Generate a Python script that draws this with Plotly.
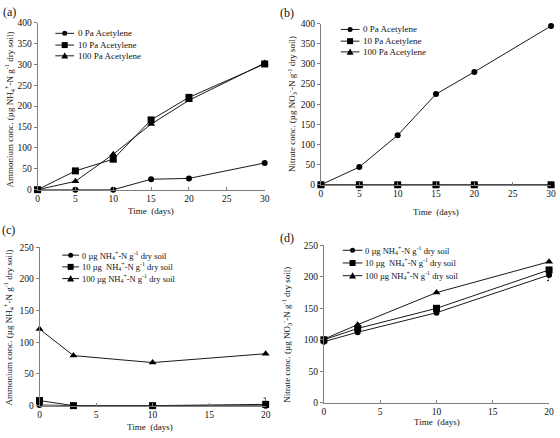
import plotly.graph_objects as go

# ---------------- data ----------------
days_ab = [0, 5, 10, 15, 20, 30]
amm_0pa = [0, 0, 0, 25, 27, 64]
amm_10pa = [0, 45, 73, 167, 221, 301]
amm_100pa = [0, 20, 85, 157, 214, 303]

nit_0pa = [0, 44, 123, 225, 280, 394]
nit_10pa = [0, 0, 0, 0, 0, 0]
nit_100pa = [0, 0, 0, 0, 0, 0]

days_cd = [0, 3, 10, 20]
amm_0ug = [1, 0, 0, 0]
amm_10ug = [8, 0, 0, 2]
amm_10ug_err = [0, 0, 0, 10]
amm_100ug = [121, 79, 68, 82]

nit_0ug = [97, 112, 143, 203]
nit_0ug_err = [0, 0, 0, 9]
nit_10ug = [100, 118, 150, 211]
nit_10ug_err = [0, 0, 0, 3]
nit_100ug = [101, 124, 175, 224]

labels_ab = ["0 Pa Acetylene", "10 Pa Acetylene", "100 Pa Acetylene"]
labels_cd = ["0 \u00b5g NH<sub>4</sub><sup>+</sup>-N g<sup>-1</sup> dry soil",
             "10 \u00b5g  NH<sub>4</sub><sup>+</sup>-N g<sup>-1</sup> dry soil",
             "100 \u00b5g NH<sub>4</sub><sup>+</sup>-N g<sup>-1</sup> dry soil"]

# ---------------- layout helpers ----------------
W, H = 560, 438
FONT = "Liberation Serif"
LINE = "#1a1a1a"
AX = "#7f7f7f"
TXT = "#111"


def px_x(p):
    return p / W


def px_y(p):
    return 1 - p / H


fig = go.Figure()

symbols = ["circle", "square", "triangle-up"]
msizes = [6, 7, 7]


def add_series(xs, ys, name, idx, ax, err=None):
    kw = {}
    if err is not None:
        kw["error_y"] = dict(type="data", array=err, visible=True, color=LINE,
                             thickness=1, width=2)
    fig.add_trace(go.Scatter(
        x=xs, y=ys, name=name, mode="lines+markers",
        line=dict(color=LINE, width=1),
        marker=dict(symbol=symbols[idx], size=msizes[idx], color="black"),
        xaxis="x" + ("" if ax == 1 else str(ax)),
        yaxis="y" + ("" if ax == 1 else str(ax)),
        showlegend=False, cliponaxis=False, **kw))


# panel a
add_series(days_ab, amm_0pa, labels_ab[0], 0, 1)
add_series(days_ab, amm_100pa, labels_ab[2], 2, 1)
add_series(days_ab, amm_10pa, labels_ab[1], 1, 1)
# panel b
add_series(days_ab, nit_0pa, labels_ab[0], 0, 2)
add_series(days_ab, nit_100pa, labels_ab[2], 2, 2)
add_series(days_ab, nit_10pa, labels_ab[1], 1, 2)
# panel c
add_series(days_cd, amm_0ug, labels_cd[0], 0, 3)
add_series(days_cd, amm_100ug, labels_cd[2], 2, 3)
add_series(days_cd, amm_10ug, labels_cd[1], 1, 3, err=amm_10ug_err)
# panel d
add_series(days_cd, nit_100ug, labels_cd[2], 2, 4)
add_series(days_cd, nit_10ug, labels_cd[1], 1, 4, err=nit_10ug_err)
add_series(days_cd, nit_0ug, labels_cd[0], 0, 4, err=nit_0ug_err)

# panel geometry in pixels: (left, right, top, bottom)
panels = {
    1: (36, 266, 18, 189),
    2: (323, 556, 19, 184),
    3: (38, 267, 248, 410),
    4: (326, 554, 246, 407),
}
xranges = {1: [0, 30], 2: [0, 30], 3: [0, 20], 4: [0, 20]}
yranges = {1: [0, 400], 2: [0, 400], 3: [0, 250], 4: [0, 250]}

tickfont = dict(family=FONT, size=9.5, color=TXT)
layout = dict(
    width=W, height=H, margin=dict(l=0, r=0, t=0, b=0),
    paper_bgcolor="white", plot_bgcolor="white",
    font=dict(family=FONT, size=9.5, color=TXT),
    showlegend=False,
)
for i, (l, r, t, b) in panels.items():
    sfx = "" if i == 1 else str(i)
    layout["xaxis" + sfx] = dict(
        domain=[px_x(l), px_x(r)], range=xranges[i], dtick=5,
        showline=True, linecolor=AX, linewidth=1, showgrid=False, zeroline=False,
        ticks="inside", ticklen=3, tickcolor=AX, tickfont=tickfont,
        anchor="y" + sfx, fixedrange=True)
    layout["yaxis" + sfx] = dict(
        domain=[px_y(b), px_y(t)], range=yranges[i], dtick=50,
        showline=True, linecolor=AX, linewidth=1, showgrid=False, zeroline=False,
        ticks="outside", ticklen=3, tickcolor=AX, tickfont=tickfont,
        anchor="x" + sfx, fixedrange=True)

fig.update_layout(**layout)

# ---------------- legends (key glyphs drawn in pixel units) ----------------
# (line start x, key length, text start x, row y positions, labels, font size)
legend_geo = [
    (54, 19, 75, [29, 41, 52], labels_ab, 9),
    (343, 19, 364, [25, 37, 48], labels_ab, 9),
    (61, 17, 79, [256, 268, 280], labels_cd, 8.5),
    (345, 20, 366, [251, 264, 277], labels_cd, 8.5),
]
shapes = []
for lx, llen, tx, rows, labs, fs in legend_geo:
    for k, (ry, lab) in enumerate(zip(rows, labs)):
        shapes.append(dict(type="line", xref="paper", yref="paper",
                           x0=px_x(lx), x1=px_x(lx + llen), y0=px_y(ry), y1=px_y(ry),
                           line=dict(color=LINE, width=1)))
        cx = lx + llen / 2
        common = dict(xref="paper", yref="paper", xsizemode="pixel", ysizemode="pixel",
                      xanchor=px_x(cx), yanchor=px_y(ry), fillcolor="black",
                      line=dict(width=0))
        if k == 0:
            shapes.append(dict(type="circle", x0=-2.5, x1=2.5, y0=-2.5, y1=2.5, **common))
        elif k == 1:
            shapes.append(dict(type="rect", x0=-3, x1=3, y0=-3, y1=3, **common))
        else:
            shapes.append(dict(type="path", path="M -3.5,-2.8 L 3.5,-2.8 L 0,3.5 Z", **common))
        fig.add_annotation(text=lab, x=px_x(tx), y=px_y(ry), xref="paper", yref="paper",
                           showarrow=False, xanchor="left", yanchor="middle",
                           font=dict(family=FONT, size=fs, color=TXT))
fig.update_layout(shapes=shapes)

amm_title = "Ammonium conc. (\u00b5g NH<sub>4</sub><sup>+</sup>-N g<sup>-1</sup> dry soil)"
nit_title = "Nitrate conc. (\u00b5g NO<sub>3</sub><sup>-</sup>-N g<sup>-1</sup> dry soil)"

annots = [
    ("(a)", 8, 7, 0, 12),
    ("(b)", 289, 8, 0, 12),
    ("(c)", 7, 230, 0, 12),
    ("(d)", 289, 238, 0, 12),
    ("Time  (days)", 151, 211, 0, 9),
    ("Time  (days)", 439, 212, 0, 9),
    ("Time  (days)", 150, 432, 0, 9),
    ("Time  (days)", 440, 427, 0, 9),
    (amm_title, 8, 107, -90, 9),
    (nit_title, 294, 101, -90, 9),
    (amm_title, 7, 330, -90, 9),
    (nit_title, 288, 337, -90, 9),
]
for text, x, y, ang, fs in annots:
    fig.add_annotation(text=text, x=px_x(x), y=px_y(y), xref="paper", yref="paper",
                       showarrow=False, textangle=ang, xanchor="center", yanchor="middle",
                       font=dict(family=FONT, size=fs, color=TXT))

fig.write_html("out.html", config={"displayModeBar": False},
               post_script="document.body.style.margin='0';")
